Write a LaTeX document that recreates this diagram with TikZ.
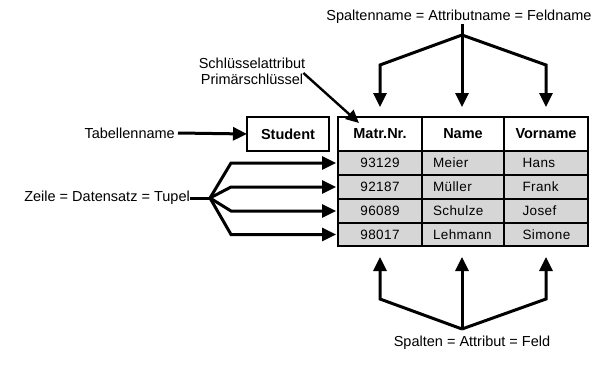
\documentclass[tikz,border=0pt]{standalone}
\usepackage{fontspec}
\setmainfont{Liberation Sans}
\usetikzlibrary{arrows.meta}
\definecolor{cellgray}{HTML}{D6D6D6}
\begin{document}
\begin{tikzpicture}[x=1pt,y=-1pt,
  lbl/.style={font=\fontsize{14.5}{16}\selectfont, inner sep=0pt},
  cell/.style={draw, line width=1.8pt, inner sep=0pt, outer sep=0pt, minimum height=24pt, fill=cellgray, font=\fontsize{13.5}{16}\selectfont\addfontfeatures{LetterSpace=3}},
  hcell/.style={draw, line width=1.8pt, inner sep=0pt, outer sep=0pt, minimum height=34pt, fill=white, font=\bfseries\fontsize{14.5}{16}\selectfont},
  w1/.style={minimum width=84pt},
  w2/.style={minimum width=82pt},
  w3/.style={minimum width=84pt},
  lft2/.style={text width=60pt, inner xsep=11pt, align=left},
  lft3/.style={text width=47pt, inner xsep=18.5pt, align=left},
  arr/.style={line width=3pt, -{Triangle[length=14pt,width=13pt]}, line join=miter},
  ln/.style={line width=3pt}
]
\useasboundingbox (0,0) rectangle (602,364);

% Student box
\node[hcell, minimum width=82pt] (stud) at (288,134) {Student};

% header
\node[hcell, w1] (h1) at (380,134) {Matr.Nr.};
\node[hcell, w2] (h2) at (463,134) {Name};
\node[hcell, w3] (h3) at (546,134) {Vorname};

% rows
\node[cell, w1] (a1) at (380,163) {93129};
\node[cell, w2, lft2] (b1) at (463,163) {Meier};
\node[cell, w3, lft3] (c1) at (546,163) {Hans};
\node[cell, w1] (a2) at (380,187) {92187};
\node[cell, w2, lft2] (b2) at (463,187) {Müller};
\node[cell, w3, lft3] (c2) at (546,187) {Frank};
\node[cell, w1] (a3) at (380,211) {96089};
\node[cell, w2, lft2] (b3) at (463,211) {Schulze};
\node[cell, w3, lft3] (c3) at (546,211) {Josef};
\node[cell, w1, minimum height=23pt] (a4) at (380,234.5) {98017};
\node[cell, w2, lft2, minimum height=23pt] (b4) at (463,234.5) {Lehmann};
\node[cell, w3, lft3, minimum height=23pt] (c4) at (546,234.5) {Simone};

% labels
\node[lbl, anchor=east] (tab) at (175,133) {Tabellenname};
\node[lbl, anchor=east] (zeile) at (190,198) {Zeile = Datensatz = Tupel};
\node[lbl] (top) at (459,17) {Spaltenname = Attributname = Feldname};
\node[lbl] (bot) at (472,343) {Spalten = Attribut = Feld};
\node[lbl, align=center, font=\fontsize{14.5}{16}\selectfont] (key) at (252,71) {Schlüsselattribut\\Primärschlüssel};

% Tabellenname arrow
\draw[arr] (tab.east) ++(3,0) -- (stud.west);

% rows arrows
\coordinate (zj) at (210,198);
\draw[ln] (zeile.east) -- (zj);
\coordinate (k1) at (231,163);
\coordinate (k2) at (231,187);
\coordinate (k3) at (231,211);
\coordinate (k4) at (231,234.5);
\draw[arr, shorten >=2pt] (zj) -- (k1) -- (a1.west);
\draw[arr, shorten >=2pt] (zj) -- (k2) -- (a2.west);
\draw[arr, shorten >=2pt] (zj) -- (k3) -- (a3.west);
\draw[arr, shorten >=2pt] (zj) -- (k4) -- (a4.west);

% top arrows
\coordinate (tj) at (462,35);
\coordinate (t1) at (380,65);
\coordinate (t3) at (546,65);
\draw[ln] (top.south) ++(3,0) -- (tj);
\draw[arr, shorten >=10pt] (tj) -- (t1) -- (h1.north);
\draw[arr, shorten >=10pt] (tj) -- (h2.north -| tj);
\draw[arr, shorten >=10pt] (tj) -- (t3) -- (h3.north);

% bottom arrows
\coordinate (bj) at (462,329);
\coordinate (u1) at (380,299);
\coordinate (u3) at (546,299);
\draw[arr, shorten >=11pt] (bj) -- (u1) -- (a4.south);
\draw[arr, shorten >=11pt] (bj) -- (b4.south -| bj);
\draw[arr, shorten >=11pt] (bj) -- (u3) -- (c4.south);

% key arrow
\coordinate (kt) at (359,123);
\draw[line width=2.4pt, -{Triangle[length=13pt,width=12pt]}] (key.east) ++(-2,2) -- (kt);
\end{tikzpicture}
\end{document}
